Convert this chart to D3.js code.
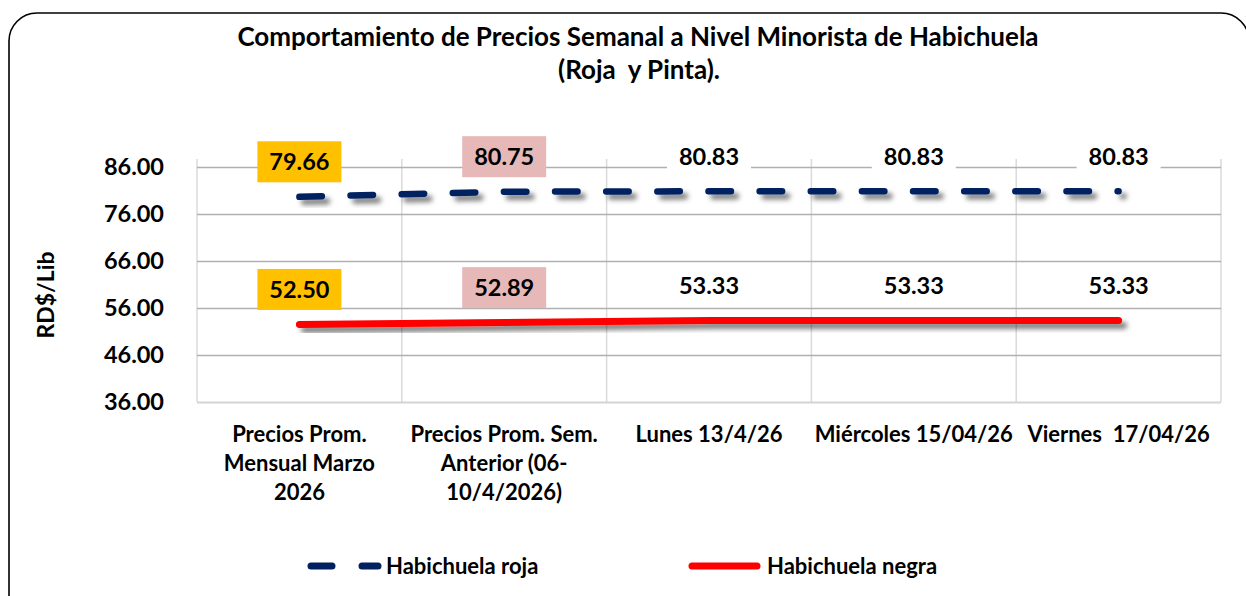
<!DOCTYPE html>
<html>
<head>
<meta charset="utf-8">
<script src="https://cdn.jsdelivr.net/npm/d3@7"></script>
<style>
  body { margin: 0; background: #fff; }
  text { font-family: Lato, "Open Sans", sans-serif; font-weight: bold; fill: #000; white-space: pre; }
</style>
</head>
<body>
<div id="chart"></div>
<script>
// Chart data
var categories = [
  "Precios Prom. Mensual Marzo 2026",
  "Precios Prom. Sem. Anterior (06-10/4/2026)",
  "Lunes 13/4/26",
  "Miércoles 15/04/26",
  "Viernes  17/04/26"
];
// how each category label wraps under the axis
var categoryLines = [
  ["Precios Prom.", "Mensual Marzo", "2026"],
  ["Precios Prom. Sem.", "Anterior (06-", "10/4/2026)"],
  ["Lunes 13/4/26"],
  ["Miércoles 15/04/26"],
  ["Viernes  17/04/26"]
];
var rojaValues = [79.66, 80.75, 80.83, 80.83, 80.83];
var negraValues = [52.50, 52.89, 53.33, 53.33, 53.33];
var labelFills = ["#FFC000", "#E6B9B8", "#fff", "#fff", "#fff"];
var yTicks = [36, 46, 56, 66, 76, 86];
var seriesNames = ["Habichuela roja", "Habichuela negra"];

// Chart params
var svgWidth = 1246;
var svgHeight = 596;
var plot = { left: 197, right: 1221, top: 167, bottom: 402 };

var svg = d3.select("#chart")
  .append("svg")
  .attr("width", svgWidth)
  .attr("height", svgHeight);

var defs = svg.append("defs");
var shadow = defs.append("filter")
  .attr("id", "shadow")
  .attr("x", "-5%").attr("y", "-100%")
  .attr("width", "110%").attr("height", "400%");
shadow.append("feDropShadow")
  .attr("dx", 5).attr("dy", 5)
  .attr("stdDeviation", 2.5)
  .attr("flood-color", "#000")
  .attr("flood-opacity", 0.5);

// outer frame
svg.append("rect")
  .attr("x", 9).attr("y", 13)
  .attr("width", 1240).attr("height", 610)
  .attr("rx", 28)
  .attr("fill", "none")
  .attr("stroke", "#000")
  .attr("stroke-width", 1.6);

// title
svg.append("text")
  .attr("x", 638).attr("y", 46)
  .attr("text-anchor", "middle")
  .style("font-size", "26px")
  .text("Comportamiento de Precios Semanal a Nivel Minorista de Habichuela");
svg.append("text")
  .attr("x", 639).attr("y", 79)
  .attr("text-anchor", "middle")
  .style("font-size", "26px")
  .text("(Roja  y Pinta).");

// scales
var xScale = d3.scaleBand()
  .domain(categories)
  .range([plot.left, plot.right]);

var yScale = d3.scaleLinear()
  .domain([36, 86])
  .range([plot.bottom, plot.top]);

var xMid = d => xScale(d) + xScale.bandwidth() / 2;

// gridlines
svg.append("g")
  .selectAll("line")
  .data(categories.concat([null]))
  .enter()
  .append("line")
  .attr("x1", d => d === null ? plot.right : xScale(d))
  .attr("x2", d => d === null ? plot.right : xScale(d))
  .attr("y1", plot.top - 8)
  .attr("y2", plot.bottom)
  .attr("stroke", "#dadada")
  .attr("stroke-width", 1.5);

var leftAxis = d3.axisLeft(yScale)
  .tickValues(yTicks)
  .tickSize(-(plot.right - plot.left))
  .tickPadding(33)
  .tickFormat(d3.format(".2f"));

var yAxis = svg.append("g")
  .attr("transform", `translate(${plot.left}, 0)`)
  .call(leftAxis);
yAxis.select(".domain").remove();
yAxis.selectAll(".tick line")
  .attr("stroke", d => d === 36 ? "#d4d4d4" : "#b0b0b0")
  .attr("stroke-width", d => d === 36 ? 2 : 1.6);
yAxis.selectAll(".tick text")
  .style("font-size", "23.5px")
  .style("font-family", "Lato, sans-serif")
  .attr("fill", "#000");

// axis title
svg.append("text")
  .attr("transform", "rotate(-90)")
  .attr("x", -295)
  .attr("y", 54)
  .attr("text-anchor", "middle")
  .style("font-size", "23px")
  .text("RD$/Lib");

// x category labels
var xLabels = svg.append("g")
  .selectAll("text")
  .data(categories)
  .enter()
  .append("text")
  .attr("x", d => xMid(d))
  .attr("y", 442)
  .attr("text-anchor", "middle")
  .style("font-size", "22px");

xLabels.selectAll("tspan")
  .data((d, i) => categoryLines[i])
  .enter()
  .append("tspan")
  .attr("x", function() { return d3.select(this.parentNode).attr("x"); })
  .attr("dy", (d, i) => i === 0 ? 0 : 29)
  .text(d => d);

// lines
var lineGen = d3.line()
  .x((d, i) => xMid(categories[i]))
  .y(d => yScale(d));

svg.append("path")
  .datum(negraValues)
  .attr("d", lineGen)
  .attr("fill", "none")
  .attr("stroke", "#FF0000")
  .attr("stroke-width", 7)
  .attr("stroke-linecap", "round")
  .attr("filter", "url(#shadow)");

var rojaPath = svg.append("path")
  .datum(rojaValues)
  .attr("d", lineGen)
  .attr("fill", "none")
  .attr("stroke", "#002060")
  .attr("stroke-width", 6.5)
  .attr("stroke-linecap", "round")
  .attr("filter", "url(#shadow)");

// 16 dash periods along the line, last one cut short so it ends on a dot
var period = (rojaPath.node().getTotalLength() - 1) / 16;
rojaPath.attr("stroke-dasharray", `22.5,${period - 22.5}`);

// data labels
function addLabels(values) {
  var g = svg.append("g")
    .selectAll("g")
    .data(values)
    .enter()
    .append("g")
    .attr("transform", (d, i) => `translate(${xMid(categories[i])}, ${yScale(d) - 35})`);

  g.append("rect")
    .attr("x", -42).attr("y", -20.5)
    .attr("width", 84).attr("height", 41)
    .attr("fill", (d, i) => labelFills[i]);

  g.append("text")
    .attr("text-anchor", "middle")
    .attr("dy", "0.36em")
    .style("font-size", "23.5px")
    .text(d => d3.format(".2f")(d));
}
addLabels(rojaValues);
addLabels(negraValues);

// legend
var legend = svg.append("g").attr("transform", "translate(0, 566)");
legend.append("line")
  .attr("x1", 311).attr("x2", 378)
  .attr("stroke", "#002060")
  .attr("stroke-width", 7)
  .attr("stroke-linecap", "round")
  .attr("stroke-dasharray", "21,30");
legend.append("text")
  .attr("x", 386).attr("dy", "0.36em")
  .style("font-size", "22px")
  .text(seriesNames[0]);
legend.append("line")
  .attr("x1", 692).attr("x2", 757)
  .attr("stroke", "#FF0000")
  .attr("stroke-width", 7)
  .attr("stroke-linecap", "round");
legend.append("text")
  .attr("x", 767).attr("dy", "0.36em")
  .style("font-size", "22px")
  .text(seriesNames[1]);
</script>
</body>
</html>
